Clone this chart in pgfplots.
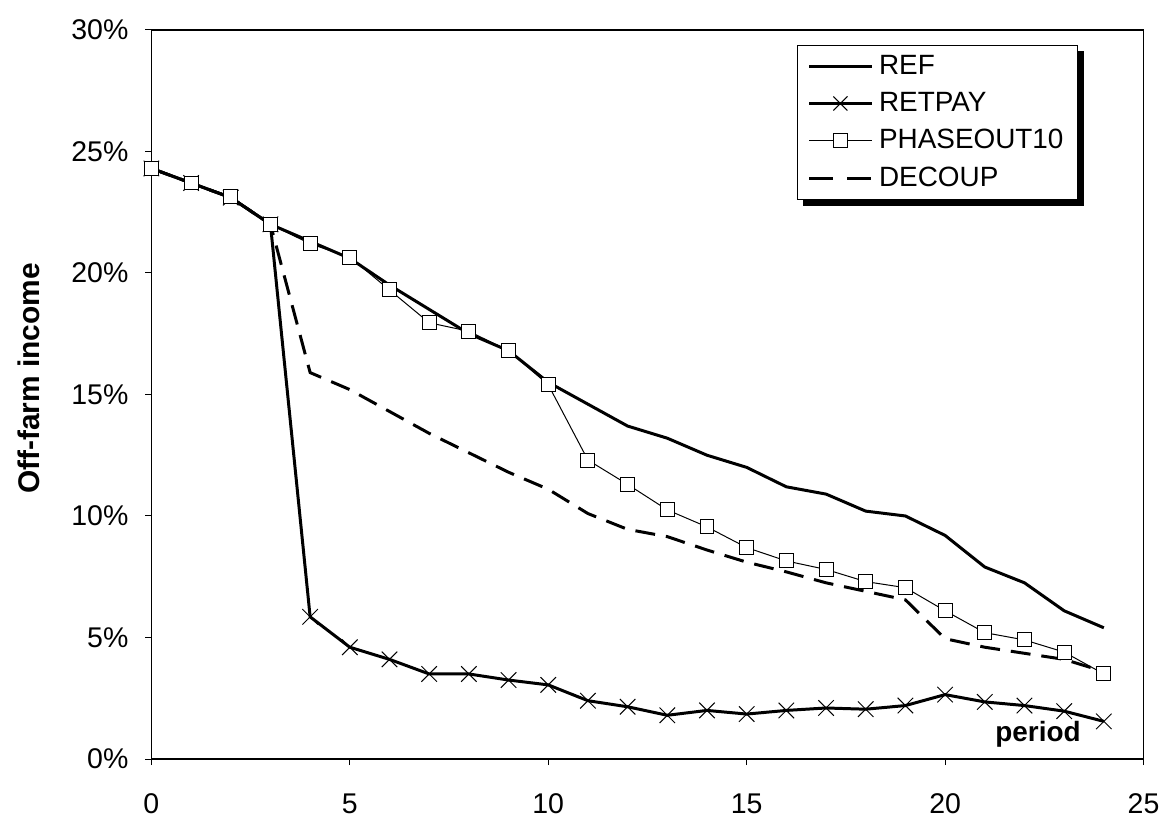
\documentclass[border=0pt]{standalone}
\usepackage{pgfplots}
\pgfplotsset{compat=1.18}
\usepackage{fontspec}
\setmainfont{Liberation Sans}
\usetikzlibrary{backgrounds}

\begin{document}
\begin{tikzpicture}
\begin{axis}[
    width=498pt, height=366pt,
    scale only axis,
    clip=false,
    xmin=0, xmax=25,
    ymin=0, ymax=30,
    xtick={0,5,10,15,20,25},
    ytick={0,5,10,15,20,25,30},
    yticklabels={0\%,5\%,10\%,15\%,20\%,25\%,30\%},
    tick pos=left,
    tick align=outside,
    major tick length=3pt,
    tick style={line width=0.5pt, black},
    axis line style={line width=0.8pt},
    /pgf/number format/assume math mode=true,
    ticklabel style={font=\fontsize{14.3}{17}\selectfont},
    yticklabel style={xshift=-5pt},
    xticklabel style={yshift=-11pt},
    ylabel={\bfseries Off-farm income},
    ylabel style={font=\fontsize{15}{18}\selectfont, at={(rel axis cs:-0.1235,0.522)}, anchor=center},
    legend cell align=left,
    legend image code/.code={\draw[mark repeat=2,mark phase=2,#1] plot coordinates {(0cm,0cm) (0.55cm,0cm) (1.1cm,0cm)};},
    legend style={
        name=mylegend,
        at={(rel axis cs:0.651,0.9795)}, anchor=north west,
        font=\fontsize{14}{17}\selectfont,
        draw=black, line width=0.5pt, fill=white,
        inner xsep=5pt, inner ysep=3pt,
        row sep=3.5pt,
        /tikz/every odd column/.append style={column sep=1pt},
    },
]

% legend entries in the reference's order
\addlegendimage{black, line width=1.5pt}
\addlegendentry{REF}
\addlegendimage{black, line width=1.5pt, mark=x, mark size=5pt, mark options={solid, line width=0.5pt}}
\addlegendentry{RETPAY}
\addlegendimage{black, line width=0.5pt, mark=square*, mark size=3.5pt, mark options={fill=white}}
\addlegendentry{PHASEOUT10}
\addlegendimage{black, line width=1.5pt, dash pattern=on 12pt off 7pt}
\addlegendentry{DECOUP}

% REF
\addplot[black, line width=1.5pt, forget plot] coordinates {
    (0,24.3) (1,23.7) (2,23.1) (3,22.0) (4,21.3) (5,20.6) (6,19.5)
    (7,18.5) (8,17.5) (9,16.8) (10,15.5) (11,14.6) (12,13.7) (13,13.2)
    (14,12.5) (15,12.0) (16,11.2) (17,10.9) (18,10.2) (19,10.0) (20,9.2)
    (21,7.9) (22,7.25) (23,6.1) (24,5.4)
};

% RETPAY
\addplot[black, line width=1.5pt, mark=x, mark size=5.5pt,
    mark options={solid, line width=0.5pt}, forget plot] coordinates {
    (0,24.3) (1,23.7) (2,23.1) (3,22.0) (4,5.85) (5,4.6) (6,4.1)
    (7,3.5) (8,3.5) (9,3.25) (10,3.05) (11,2.4) (12,2.15) (13,1.8)
    (14,2.0) (15,1.85) (16,2.0) (17,2.1) (18,2.05) (19,2.2) (20,2.65)
    (21,2.35) (22,2.2) (23,1.97) (24,1.55)
};

% DECOUP
\addplot[black, line width=1.5pt, dash pattern=on 10pt off 5.5pt, forget plot] coordinates {
    (0,24.3) (1,23.7) (2,23.1) (3,22.0) (4,15.9) (5,15.2) (6,14.3)
    (7,13.4) (8,12.6) (9,11.8) (10,11.1) (11,10.1) (12,9.45) (13,9.15)
    (14,8.6) (15,8.1) (16,7.7) (17,7.25) (18,6.9) (19,6.55) (20,4.95)
    (21,4.6) (22,4.35) (23,4.1) (24,3.6)
};

% PHASEOUT10
\addplot[black, line width=0.5pt, mark=square*, mark size=3.5pt,
    mark options={fill=white}, forget plot] coordinates {
    (0,24.3) (1,23.7) (2,23.15) (3,22.0) (4,21.2) (5,20.65) (6,19.3)
    (7,17.95) (8,17.6) (9,16.8) (10,15.4) (11,12.3) (12,11.3) (13,10.25)
    (14,9.55) (15,8.7) (16,8.15) (17,7.8) (18,7.3) (19,7.05) (20,6.1)
    (21,5.2) (22,4.9) (23,4.4) (24,3.5)
};

% top and right frame
\draw[line width=0.6pt] (rel axis cs:0,1) -- (rel axis cs:1,1) -- (rel axis cs:1,0);

\node[font=\fontsize{14}{17}\selectfont\bfseries, anchor=base] at (axis cs:22.34,0.74) {period};

% page margins as in the reference
\path (rel axis cs:-0.1526,-0.0738) rectangle (rel axis cs:1.018,1.041);
\end{axis}

% legend shadow
\begin{scope}[on background layer]
\fill[black] ([shift={(3pt,-3pt)}]mylegend.south west) rectangle ([shift={(3pt,-3pt)}]mylegend.north east);
\end{scope}
\end{tikzpicture}
\end{document}
